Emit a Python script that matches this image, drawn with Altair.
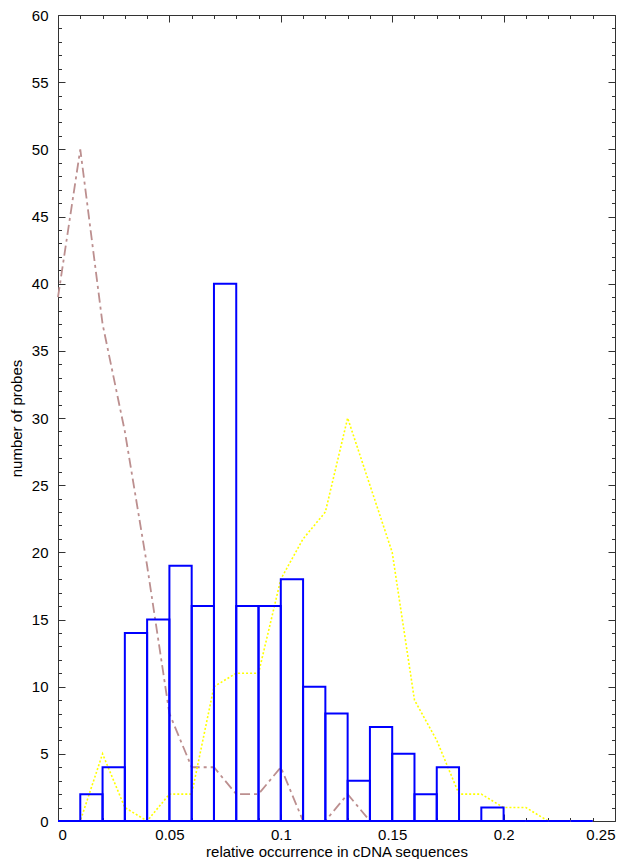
import altair as alt
import pandas as pd

# ---- data ----
bin_lo = [0.00, 0.01, 0.02, 0.03, 0.04, 0.05, 0.06, 0.07, 0.08, 0.09, 0.10, 0.11,
          0.12, 0.13, 0.14, 0.15, 0.16, 0.17, 0.18, 0.19, 0.20, 0.21, 0.22, 0.23]
bin_hi = [0.01, 0.02, 0.03, 0.04, 0.05, 0.06, 0.07, 0.08, 0.09, 0.10, 0.11, 0.12,
          0.13, 0.14, 0.15, 0.16, 0.17, 0.18, 0.19, 0.20, 0.21, 0.22, 0.23, 0.24]
counts = [0, 2, 4, 14, 15, 19, 16, 40, 16, 16, 18, 10,
          8, 3, 7, 5, 2, 4, 0, 1, 0, 0, 0, 0]

pts_x = [0.00, 0.01, 0.02, 0.03, 0.04, 0.05, 0.06, 0.07, 0.08, 0.09, 0.10, 0.11, 0.12,
         0.13, 0.14, 0.15, 0.16, 0.17, 0.18, 0.19, 0.20, 0.21, 0.22, 0.23, 0.24]
brown_y = [39, 50, 37, 29, 19, 8, 4, 4, 2, 2, 4, 0, 0,
           2, 0, 0, 0, 0, 0, 0, 0, 0, 0, 0, 0]
yellow_y = [0, 0, 5, 1, 0, 2, 2, 10, 11, 11, 18, 21, 23,
            30, 25, 20, 9, 6, 2, 2, 1, 1, 0, 0, 0]

x_major = [0, 0.05, 0.1, 0.15, 0.2, 0.25]
x_minor = [0.01, 0.02, 0.03, 0.04, 0.06, 0.07, 0.08, 0.09, 0.11, 0.12, 0.13, 0.14,
           0.16, 0.17, 0.18, 0.19, 0.21, 0.22, 0.23, 0.24]
y_major = [0, 5, 10, 15, 20, 25, 30, 35, 40, 45, 50, 55, 60]
y_minor = [v for v in range(0, 61) if v % 5 != 0]

x_title = "relative occurrence in cDNA sequences"
y_title = "number of probes"

W, H = 557, 806
FONT = "Liberation Sans"
TICK = "#333333"

bars = pd.DataFrame({"lo": bin_lo, "hi": bin_hi, "n": counts})
lines = pd.DataFrame({"x": pts_x, "brown": brown_y, "yellow": yellow_y})

xs = alt.Scale(domain=[0, 0.25], nice=False, zero=False)
ys = alt.Scale(domain=[0, 60], nice=False, zero=False)


def tick_axis(orient, values, size, offset):
    return alt.Axis(orient=orient, values=values, tickSize=size, offset=offset,
                    labels=False, domain=False, grid=False, title=None,
                    ticks=True, tickColor=TICK, tickWidth=1)


x_lab_axis = alt.Axis(orient="bottom", values=x_major, format="~g", ticks=False,
                      tickSize=0, domain=False, grid=False, labelFontSize=15,
                      labelFont=FONT, labelColor="black", labelBaseline="alphabetic",
                      labelPadding=18, title=x_title, titleFont=FONT, titleFontSize=15,
                      titleFontWeight="normal", titleColor="black",
                      titleBaseline="alphabetic", titleY=35, titleX=W / 2)
y_lab_axis = alt.Axis(orient="left", values=y_major, format="d", ticks=False,
                      tickSize=0, domain=False, grid=False, labelFontSize=15,
                      labelFont=FONT, labelColor="black", labelPadding=10,
                      title=y_title, titleFont=FONT, titleFontSize=15,
                      titleFontWeight="normal", titleColor="black", titleAngle=270,
                      titleBaseline="alphabetic", titleX=-37, titleY=H / 2)

brown = alt.Chart(lines).mark_line(color="#bc8f8f", strokeWidth=1.8,
                                   strokeDash=[10, 4, 3, 4]).encode(
    x=alt.X("x:Q", scale=xs, axis=x_lab_axis),
    y=alt.Y("brown:Q", scale=ys, axis=y_lab_axis),
)

yellow = alt.Chart(lines).mark_line(color="#ffff00", strokeWidth=1.6,
                                    strokeDash=[2, 2]).encode(
    x=alt.X("x:Q", scale=xs, axis=tick_axis("top", x_major, 7, -H)),
    y=alt.Y("yellow:Q", scale=ys, axis=tick_axis("right", y_major, 7, -W)),
)

hist = alt.Chart(bars).mark_rect(fillOpacity=0, stroke="#0000ff", strokeWidth=2).encode(
    x=alt.X("lo:Q", scale=xs, axis=tick_axis("top", x_minor, 3.5, -H)),
    x2="hi:Q",
    y=alt.Y("n:Q", scale=ys, axis=tick_axis("right", y_minor, 3.5, -W)),
    y2=alt.datum(0),
)

ghost1 = alt.Chart(lines).mark_point(opacity=0).encode(
    x=alt.X("x:Q", scale=xs, axis=tick_axis("bottom", x_major, 7, -H)),
    y=alt.Y("yellow:Q", scale=ys, axis=tick_axis("left", y_major, 7, -W)),
)
ghost2 = alt.Chart(lines).mark_point(opacity=0).encode(
    x=alt.X("x:Q", scale=xs, axis=tick_axis("bottom", x_minor, 3.5, -H)),
    y=alt.Y("yellow:Q", scale=ys, axis=tick_axis("left", y_minor, 3.5, -W)),
)

chart = alt.layer(brown, yellow, hist, ghost1, ghost2).resolve_axis(
    x="independent", y="independent"
).properties(
    width=W, height=H,
    autosize=alt.AutoSizeParams(type="none"),
    padding={"left": 50, "top": 7, "right": 15, "bottom": 38},
    background="white",
).configure_view(stroke=TICK, strokeWidth=1)

chart.save("out.html", embed_options={"renderer": "svg", "actions": False})
